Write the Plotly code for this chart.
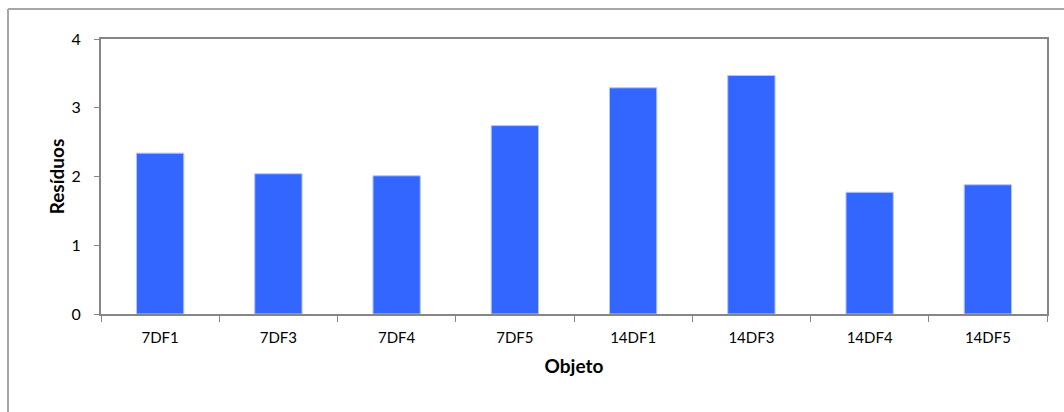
import plotly.graph_objects as go

# Residue values per object
objetos = ["7DF1", "7DF3", "7DF4", "7DF5", "14DF1", "14DF3", "14DF4", "14DF5"]
residuos = [2.34, 2.04, 2.01, 2.74, 3.29, 3.47, 1.77, 1.88]
y_ticks = [0, 1, 2, 3, 4]

W, H = 1064, 412
ML, MR, MT, MB = 101, 17, 39, 98
FONT = "Lato, 'Open Sans', sans-serif"
AXIS_COLOR = "#868686"

fig = go.Figure(
    go.Bar(
        x=objetos,
        y=residuos,
        marker=dict(color="#3366FF", line=dict(color="#b3c6ff", width=1)),
        hoverinfo="x+y",
    )
)

fig.update_layout(
    width=W,
    height=H,
    margin=dict(l=ML, r=MR, t=MT, b=MB),
    paper_bgcolor="white",
    plot_bgcolor="white",
    bargap=0.6,
    showlegend=False,
    font=dict(family=FONT, size=15, color="#000000"),
)

fig.update_xaxes(
    type="category",
    tickson="boundaries",
    ticks="outside",
    ticklen=6,
    tickcolor=AXIS_COLOR,
    tickwidth=1,
    showline=True,
    linecolor=AXIS_COLOR,
    linewidth=2,
    mirror=True,
    showgrid=False,
    tickfont=dict(family=FONT, size=15),
    ticklabelstandoff=9,
    title=dict(text="<b>Objeto</b>", font=dict(family=FONT, size=19), standoff=15),
)

fig.update_yaxes(
    range=[0, 4],
    tickvals=y_ticks,
    ticks="outside",
    ticklen=5,
    tickcolor=AXIS_COLOR,
    tickwidth=1,
    showline=True,
    linecolor=AXIS_COLOR,
    linewidth=2,
    mirror=True,
    showgrid=False,
    zeroline=False,
    tickfont=dict(family=FONT, size=16),
    ticklabelstandoff=10,
    title=dict(text="<b>Resíduos</b>", font=dict(family=FONT, size=19), standoff=2),
)

# Outer chart border (top and left edges)
px = lambda v: (v - ML) / (W - ML - MR)
py = lambda v: 1 - (v - MT) / (H - MT - MB)
border = dict(color="#a6a6a6", width=2)
fig.add_shape(type="line", xref="paper", yref="paper",
              x0=px(8), x1=px(W + 5), y0=py(9), y1=py(9), line=border)
fig.add_shape(type="line", xref="paper", yref="paper",
              x0=px(8), x1=px(8), y0=py(9), y1=py(H + 5), line=border)

fig.write_html("out.html")
